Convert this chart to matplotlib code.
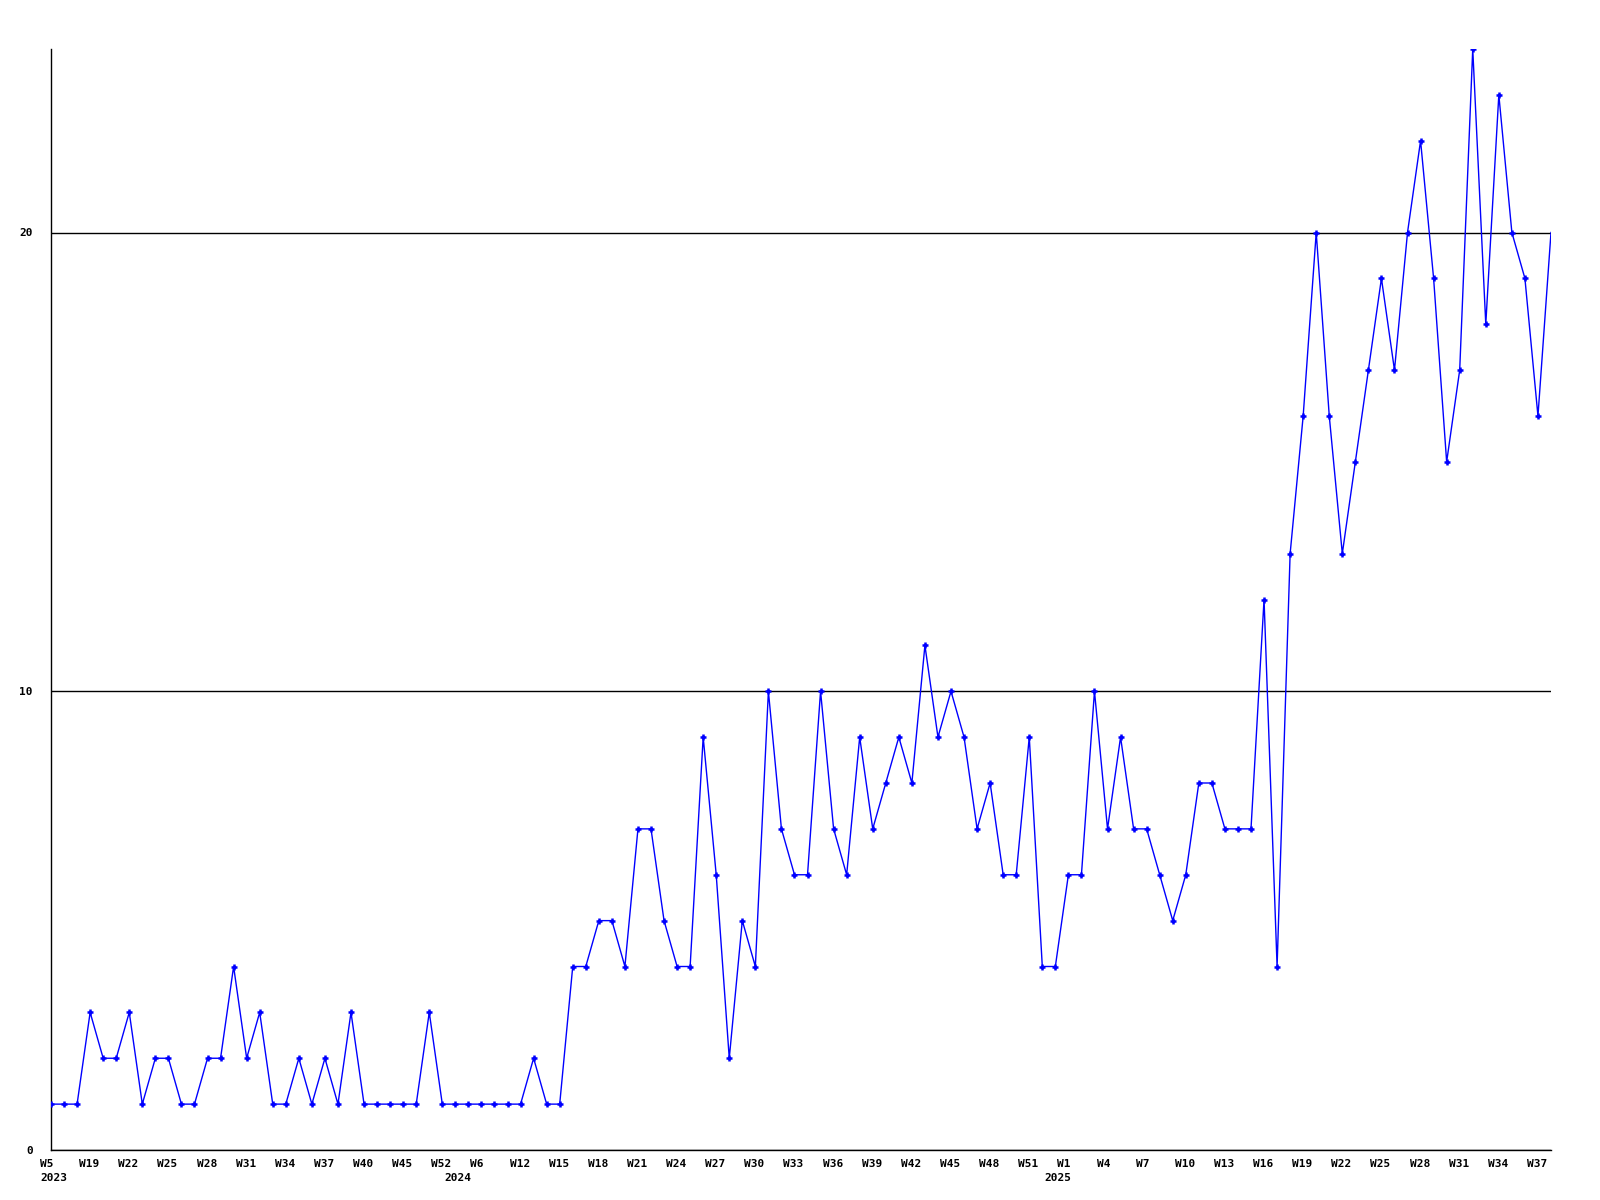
import matplotlib
matplotlib.use("Agg")
import matplotlib.pyplot as plt
import matplotlib.transforms as mtransforms

# weekly counts, one value per point
counts = [
    1, 1, 1, 3, 2, 2, 3, 1, 2, 2, 1, 1, 2, 2, 4, 2, 3, 1, 1, 2,
    1, 2, 1, 3, 1, 1, 1, 1, 1, 3, 1, 1, 1, 1, 1, 1, 1, 2, 1, 1,
    4, 4, 5, 5, 4, 7, 7, 5, 4, 4, 9, 6, 2, 5, 4, 10, 7, 6, 6, 10,
    7, 6, 9, 7, 8, 9, 8, 11, 9, 10, 9, 7, 8, 6, 6, 9, 4, 4, 6, 6,
    10, 7, 9, 7, 7, 6, 5, 6, 8, 8, 7, 7, 7, 12, 4, 13, 16, 20, 16, 13,
    15, 17, 19, 17, 20, 22, 19, 15, 17, 24, 18, 23, 20, 19, 16, 20,
]

# one week label every third point
week_labels = [
    "W5", "W19", "W22", "W25", "W28", "W31", "W34", "W37", "W40", "W45",
    "W52", "W6", "W12", "W15", "W18", "W21", "W24", "W27", "W30", "W33",
    "W36", "W39", "W42", "W45", "W48", "W51", "W1", "W4", "W7", "W10",
    "W13", "W16", "W19", "W22", "W25", "W28", "W31", "W34", "W37",
]
year_labels = ["2023", "2024", "2025"]
year_pos = [0, 31, 77]

y_ticks = [0, 10, 20]

font = {"family": "DejaVu Sans Mono", "weight": "bold", "size": 8}

fig = plt.figure(figsize=(16, 12), dpi=100)
ax = fig.add_axes([51 / 1600, 1 - 1150 / 1200, 1500 / 1600, (1150 - 49) / 1200])

x = list(range(len(counts)))
# the last (current) week is drawn without a marker
ax.plot(x, counts, color="#0000ff", lw=1.0, marker="+", ms=5, mew=1.8,
        markevery=list(range(len(counts) - 1)), zorder=3)

ax.set_xlim(0, len(counts) - 1)
ax.set_ylim(0, 24)

ax.set_yticks(y_ticks)
ax.set_yticklabels([str(v) for v in y_ticks], fontdict=font)
ax.grid(axis="y", color="black", lw=1)
ax.set_axisbelow(True)

tick_idx = list(range(0, len(counts), 3))[:len(week_labels)]
ax.set_xticks(tick_idx)
ax.set_xticklabels([])

ax.tick_params(axis="x", length=0)
ax.tick_params(axis="y", length=0, pad=13)

for s in ["top", "right"]:
    ax.spines[s].set_visible(False)
for s in ["left", "bottom"]:
    ax.spines[s].set_color("black")
    ax.spines[s].set_linewidth(1)

# labels sit below the axis, starting a little left of their point
trans = mtransforms.blended_transform_factory(ax.transData, ax.transAxes)
week_shift = mtransforms.ScaledTranslation(-11 / 100, -9 / 100, fig.dpi_scale_trans)
for pos, wk in zip(tick_idx, week_labels):
    ax.text(pos, 0, wk, transform=trans + week_shift, ha="left", va="top", **font)

year_shift = mtransforms.ScaledTranslation(-11 / 100, -23 / 100, fig.dpi_scale_trans)
for pos, yr in zip(year_pos, year_labels):
    ax.text(pos, 0, yr, transform=trans + year_shift, ha="left", va="top", **font)

fig.savefig("out.png", dpi=100)
